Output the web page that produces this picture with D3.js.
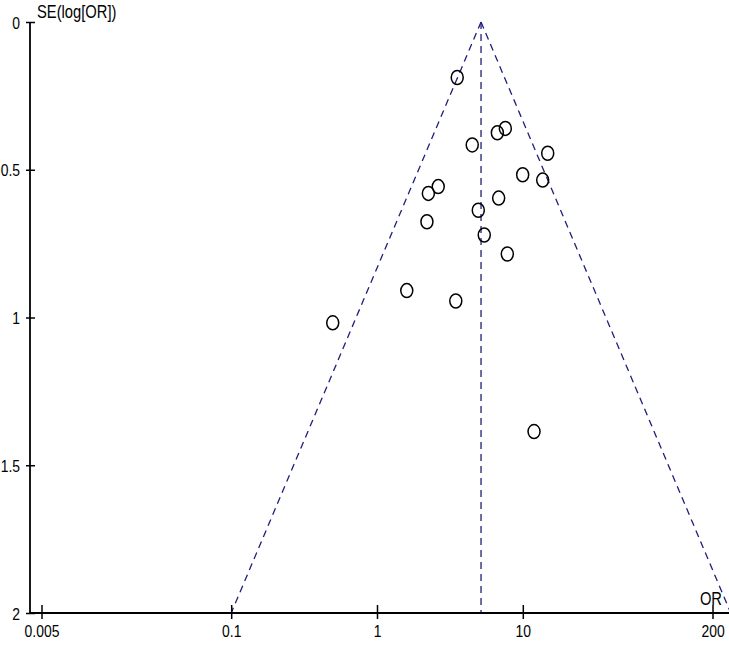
<!DOCTYPE html>
<html>
<head>
<meta charset="utf-8">
<script src="https://cdn.jsdelivr.net/npm/d3@7"></script>
<style>
  html, body { margin: 0; padding: 0; background: #fff; }
  svg { display: block; }
  .lbl { font-family: "Liberation Sans", Arial, sans-serif; font-size: 17px; fill: #000; }
  .ttl { font-family: "Liberation Sans", Arial, sans-serif; font-size: 18px; fill: #000; }
</style>
</head>
<body>
<svg id="chart" width="729" height="646"></svg>
<script>
// ---- data ----
const studyOR = [3.55, 6.69, 7.59, 4.50, 14.82, 9.98, 13.69, 2.63, 2.25, 6.83, 4.95, 2.20, 5.44, 7.83, 1.60, 3.47, 0.497, 11.94];
const studySE = [0.188, 0.375, 0.360, 0.416, 0.444, 0.517, 0.535, 0.557, 0.580, 0.596, 0.637, 0.676, 0.721, 0.785, 0.909, 0.944, 1.018, 1.386];
const pooledOR = 5.17;
const funnelLeft = [{or: 5.17, se: 0}, {or: 0.1, se: 2}];
const funnelRight = [{or: 5.17, se: 0}, {or: 267, se: 2}];
const xTicks = [0.005, 0.1, 1, 10, 200];
const xTickLabels = ["0.005", "0.1", "1", "10", "200"];
const yTicks = [0, 0.5, 1, 1.5, 2];
const yTickLabels = ["0", "0.5", "1", "1.5", "2"];
const yTitle = "SE(log[OR])";
const xTitle = "OR";

// ---- scales ----
const svg = d3.select("#chart");
const x = d3.scaleLog().domain([0.005, 200]).range([41.5, 712.5]);
const y = d3.scaleLinear().domain([0, 2]).range([22, 613]);
const axisX0 = 30;
const navy = "#1f1f7a";
const SX = 0.82; // narrow font look

function narrow(sel) {
  sel.each(function() {
    const t = d3.select(this);
    const tx = +t.attr("x") || 0;
    t.attr("x", tx / SX).attr("transform", `scale(${SX},1)`);
  });
}

// ---- funnel & pooled line ----
const line = d3.line().x(d => x(d.or)).y(d => y(d.se));
[funnelLeft, funnelRight].forEach(f => {
  svg.append("path").attr("d", line(f))
    .attr("fill", "none").attr("stroke", navy).attr("stroke-width", 1.3)
    .attr("stroke-dasharray", "7,5");
});
svg.append("path").attr("d", line([{or: pooledOR, se: 0}, {or: pooledOR, se: 2}]))
  .attr("fill", "none").attr("stroke", navy).attr("stroke-width", 1.3)
  .attr("stroke-dasharray", "7,5");

// ---- axes ----
const yAxis = d3.axisLeft(y).tickValues(yTicks).tickFormat((d, i) => yTickLabels[i]).tickSize(0).tickPadding(10);
const gy = svg.append("g").attr("transform", `translate(${axisX0},0)`).call(yAxis);
gy.attr("font-size", null).attr("font-family", null);
gy.select(".domain").remove();
gy.selectAll(".tick line").attr("x1", -4).attr("x2", 5).attr("stroke", "#000").attr("stroke-width", 1.5);
gy.selectAll(".tick text").attr("class", "lbl").attr("dy", "0.36em");
narrow(gy.selectAll(".tick text"));
gy.append("line").attr("x1", 0).attr("x2", 0).attr("y1", y(0)).attr("y2", y(2)).attr("stroke", "#000").attr("stroke-width", 1.8);

const xAxis = d3.axisBottom(x).tickValues(xTicks).tickFormat((d, i) => xTickLabels[i]).tickSize(0).tickPadding(12);
const gx = svg.append("g").attr("transform", `translate(0,${y(2)})`).call(xAxis);
gx.attr("font-size", null).attr("font-family", null);
gx.select(".domain").remove();
gx.selectAll(".tick line").attr("y1", -8).attr("y2", 6).attr("stroke", "#000").attr("stroke-width", 1.5);
gx.selectAll(".tick text").attr("class", "lbl").attr("dy", "0.71em");
narrow(gx.selectAll(".tick text"));
gx.append("line").attr("x1", axisX0).attr("x2", 729).attr("y1", 0).attr("y2", 0).attr("stroke", "#000").attr("stroke-width", 1.8);

// ---- titles ----
svg.append("g").attr("transform", "translate(37,18)")
  .append("text").attr("class", "ttl").attr("x", 0).attr("y", 0).text(yTitle)
  .attr("transform", `scale(${SX},1)`);
svg.append("g").attr("transform", "translate(722,605)")
  .append("text").attr("class", "ttl").attr("x", 0).attr("y", 0).attr("text-anchor", "end").text(xTitle)
  .attr("transform", `scale(${SX},1)`);

// ---- points ----
svg.append("g").selectAll("ellipse").data(studyOR.map((o, i) => ({or: o, se: studySE[i]})))
  .join("ellipse")
  .attr("cx", d => x(d.or)).attr("cy", d => y(d.se))
  .attr("rx", 6).attr("ry", 7)
  .attr("fill", "none").attr("stroke", "#000").attr("stroke-width", 1.5);
</script>
</body>
</html>
